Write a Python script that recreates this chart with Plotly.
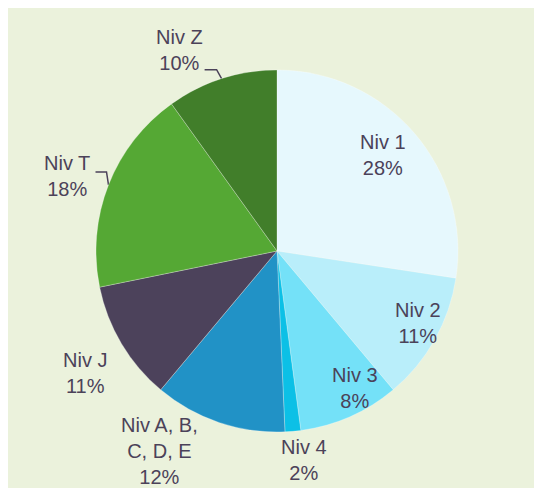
import math
import plotly.graph_objects as go

# ---- data ----
labels = ["Niv 1", "Niv 2", "Niv 3", "Niv 4", "Niv A, B,<br>C, D, E", "Niv J", "Niv T", "Niv Z"]
values = [27.4, 11.5, 9.0, 1.4, 11.8, 10.7, 18.3, 9.9]
pct_text = ["28%", "11%", "8%", "2%", "12%", "11%", "18%", "10%"]

# ---- style ----
colors = ["#E6F8FD", "#B9EEFA", "#74E1F8", "#0CC0E6", "#2192C6", "#4C425B", "#55A834", "#417E2A"]
text_color = "#4B4259"
bg_green = "#EBF2DC"
W, H = 560, 500
CX, CY, R = 269, 243, 181
# label offsets (px) from the rim point at each slice's mid-angle
label_dx = [-31, -17, 5, 11, -59, -37, -42, -42]
label_dy = [22, -17, -29, 29, 29, 29, -9, -29]
# leader lines (pixel offsets of elbow points from rim point) for some labels
leaders = {7: [(-5, -9), (-17, -9)], 6: [(-2, -13), (-13, -13)]}

fig = go.Figure()

fig.add_trace(go.Pie(
    labels=labels, values=values, sort=False, direction="clockwise", rotation=0,
    marker=dict(colors=colors, line=dict(color="rgba(255,255,255,0.35)", width=0.8)),
    textinfo="none", hoverinfo="label+percent", showlegend=False,
    domain=dict(x=[(CX - R) / W, (CX + R) / W], y=[(H - CY - R) / H, (H - CY + R) / H]),
))

total = sum(values)
cum = 0
annotations = []
for i, v in enumerate(values):
    mid = (cum + v / 2) / total * 2 * math.pi
    cum += v
    rx = CX + R * math.sin(mid)
    ry = CY - R * math.cos(mid)
    annotations.append(dict(
        x=rx + label_dx[i], y=ry + label_dy[i], xref="x", yref="y",
        text=f"{labels[i]}<br>{pct_text[i]}", showarrow=False,
        xanchor="center", yanchor="middle",
        font=dict(family="Liberation Sans, Arial, sans-serif", size=20, color=text_color),
    ))
    if i in leaders:
        xs = [rx] + [rx + dx for dx, dy in leaders[i]]
        ys = [ry] + [ry + dy for dx, dy in leaders[i]]
        fig.add_trace(go.Scatter(x=xs, y=ys, mode="lines", line=dict(color=text_color, width=1.5),
                                 hoverinfo="skip", showlegend=False))

fig.update_layout(
    width=W, height=H, margin=dict(l=0, r=0, t=0, b=0),
    paper_bgcolor=bg_green, plot_bgcolor="rgba(0,0,0,0)",
    xaxis=dict(range=[0, W], visible=False, fixedrange=True),
    yaxis=dict(range=[H, 0], visible=False, fixedrange=True),
    annotations=annotations,
)

fig.write_html("out.html", post_script="document.body.style.overflow='hidden';")
